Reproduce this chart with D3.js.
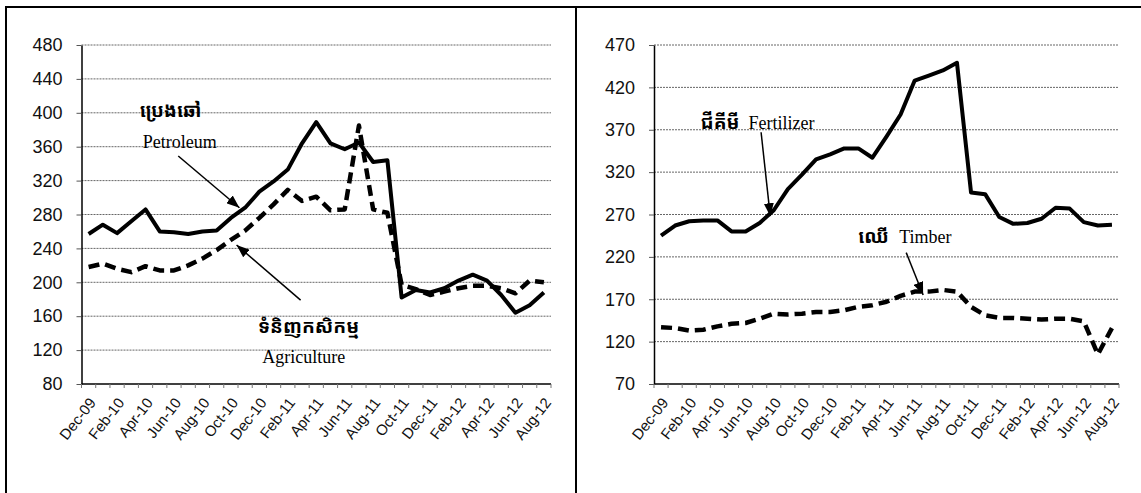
<!DOCTYPE html>
<html>
<head>
<meta charset="utf-8">
<script src="https://cdn.jsdelivr.net/npm/d3@7"></script>
<style>
  body { margin: 0; background: #fff; }
  svg { display: block; }
</style>
</head>
<body>
<div class="svgcontainer"></div>
<script>
// categories (monthly)
const months = ["Dec-09","Jan-10","Feb-10","Mar-10","Apr-10","May-10","Jun-10","Jul-10","Aug-10","Sep-10","Oct-10","Nov-10",
  "Dec-10","Jan-11","Feb-11","Mar-11","Apr-11","May-11","Jun-11","Jul-11","Aug-11","Sep-11","Oct-11","Nov-11",
  "Dec-11","Jan-12","Feb-12","Mar-12","Apr-12","May-12","Jun-12","Jul-12","Aug-12"];

// left panel series
const petroleum = [257,268,258,272,286,260,259,257,260,261,276,288,307,319,333,364,389,364,357,365,342,344,182,191,188,193,202,209,202,185,164,173,188];
const agriculture = [218,222,216,212,219,214,214,220,228,238,250,261,276,292,309,296,301,285,286,385,286,282,197,192,185,189,193,196,196,193,187,202,200];

// right panel series
const fertilizer = [245,257,262,263,263,250,250,260,275,300,317,335,341,348,348,337,362,388,428,434,440,449,296,294,267,259,260,265,278,277,261,257,258];
const timber = [137,136,133,134,138,141,142,147,153,152,153,155,155,157,161,163,167,174,179,179,181,179,161,151,148,148,147,146,147,147,144,105,136];

// y ticks
const leftTicks = [80,120,160,200,240,280,320,360,400,440,480];
const rightTicks = [70,120,170,220,270,320,370,420,470];

const W = 1141, H = 493;

const svg = d3.select('.svgcontainer')
  .append('svg')
  .attr('width', W)
  .attr('height', H);

svg.append('rect').attr('width', W).attr('height', H).attr('fill', '#fff');

// arrow marker
svg.append('defs').append('marker')
  .attr('id', 'arrow')
  .attr('viewBox', '0 0 13 10')
  .attr('refX', 13).attr('refY', 5)
  .attr('markerWidth', 13).attr('markerHeight', 10)
  .attr('markerUnits', 'userSpaceOnUse')
  .attr('orient', 'auto')
  .append('path')
  .attr('d', 'M0,0 L13,5 L0,10 Z')
  .attr('fill', '#000');

// frame
svg.append('line').attr('x1', 5).attr('x2', W).attr('y1', 7).attr('y2', 7).attr('stroke', '#000').attr('stroke-width', 2);
svg.append('line').attr('x1', 6).attr('x2', 6).attr('y1', 6).attr('y2', H).attr('stroke', '#000').attr('stroke-width', 2);
svg.append('line').attr('x1', 576).attr('x2', 576).attr('y1', 6).attr('y2', H).attr('stroke', '#000').attr('stroke-width', 2);

function drawPanel(opts) {
  const x = d3.scaleBand().domain(months).range([opts.x0, opts.x1]).padding(0);
  const y = d3.scaleLinear().domain(opts.domain).range([384, 45]);
  const cx = d => x(d) + x.bandwidth() / 2;
  const g = svg.append('g');

  // gridlines
  g.selectAll('.grid')
    .data(opts.ticks.slice(1))
    .enter()
    .append('line')
    .attr('x1', opts.x0).attr('x2', opts.x1)
    .attr('y1', d => y(d)).attr('y2', d => y(d))
    .attr('stroke', '#666')
    .attr('stroke-width', 1)
    .attr('stroke-dasharray', '2,1');

  // y axis
  const yAxis = g.append('g')
    .attr('transform', `translate(${opts.x0},0)`)
    .call(d3.axisLeft(y).tickValues(opts.ticks).tickSize(5).tickSizeOuter(0).tickPadding(14));
  yAxis.select('.domain').attr('stroke', '#000').attr('stroke-width', 1.5);
  yAxis.selectAll('.tick line').attr('stroke', '#555');
  yAxis.selectAll('text')
    .attr('font-family', 'Liberation Sans, Arial, sans-serif')
    .attr('font-size', 18)
    .attr('fill', '#111');

  // x axis baseline + boundary ticks
  g.append('line')
    .attr('x1', opts.x0).attr('x2', opts.x1)
    .attr('y1', 384).attr('y2', 384)
    .attr('stroke', '#000').attr('stroke-width', 1.5);
  const bounds = months.map(m => x(m)).concat([opts.x1]);
  g.selectAll('.xtick')
    .data(bounds)
    .enter()
    .append('line')
    .attr('x1', d => d).attr('x2', d => d)
    .attr('y1', 384).attr('y2', 388)
    .attr('stroke', '#777');

  // x labels every second month
  g.selectAll('.xlab')
    .data(months.filter((m, i) => i % 2 === 0))
    .enter()
    .append('text')
    .attr('transform', d => `translate(${cx(d) + 8},${403}) rotate(-52)`)
    .attr('text-anchor', 'end')
    .attr('font-family', 'Liberation Sans, Arial, sans-serif')
    .attr('font-size', 15)
    .attr('fill', '#111')
    .text(d => d);

  const line = d3.line().x((d, i) => cx(months[i])).y(d => y(d));

  // solid series
  g.append('path')
    .datum(opts.solid)
    .attr('fill', 'none')
    .attr('stroke', '#000')
    .attr('stroke-width', 4)
    .attr('stroke-linejoin', 'round')
    .attr('d', line);

  // dashed series
  g.append('path')
    .datum(opts.dashed)
    .attr('fill', 'none')
    .attr('stroke', '#000')
    .attr('stroke-width', 4.5)
    .attr('stroke-dasharray', '11,6')
    .attr('stroke-linejoin', 'round')
    .attr('d', line);

  // position helper for annotations: fractional category index + value
  const px = i => opts.x0 + x.bandwidth() * (i + 0.5);

  opts.notes.forEach(n => {
    g.append('text')
      .attr('x', px(n.km[0])).attr('y', y(n.km[1]))
      .attr('font-family', 'Khmer OS, Noto Sans Khmer, Khmer OS System, DejaVu Sans, sans-serif')
      .attr('font-weight', 'bold')
      .attr('font-size', 19)
      .attr('fill', '#000')
      .text(n.kmText);
    g.append('text')
      .attr('x', px(n.en[0])).attr('y', y(n.en[1]))
      .attr('font-family', 'Liberation Serif, Times New Roman, serif')
      .attr('font-size', 18)
      .attr('fill', '#000')
      .text(n.enText);
    g.append('line')
      .attr('x1', px(n.from[0])).attr('y1', y(n.from[1]))
      .attr('x2', px(n.to[0])).attr('y2', y(n.to[1]))
      .attr('stroke', '#000')
      .attr('stroke-width', 1.5)
      .attr('marker-end', 'url(#arrow)');
  });
}

drawPanel({
  x0: 81.5, x1: 551, domain: [80, 480], ticks: leftTicks,
  solid: petroleum, dashed: agriculture,
  notes: [
    { kmText: 'ប្រេងឆៅ', km: [3.6, 395], enText: 'Petroleum', en: [3.8, 359], from: [6.3, 349], to: [10.6, 288] },
    { kmText: 'ទំនិញកសិកម្ម', km: [11.9, 140], enText: 'Agriculture', en: [12.2, 105], from: [14.9, 179], to: [10.4, 244] }
  ]
});

drawPanel({
  x0: 654, x1: 1119, domain: [70, 470], ticks: rightTicks,
  solid: fertilizer, dashed: timber,
  notes: [
    { kmText: 'ជីគីមី', km: [2.8, 371], enText: 'Fertilizer', en: [6.2, 371], from: [7.1, 367], to: [7.75, 268] },
    { kmText: 'ឈើ', km: [14.0, 236], enText: 'Timber', en: [16.9, 236], from: [17.4, 225], to: [18.6, 175] }
  ]
});
</script>
</body>
</html>
